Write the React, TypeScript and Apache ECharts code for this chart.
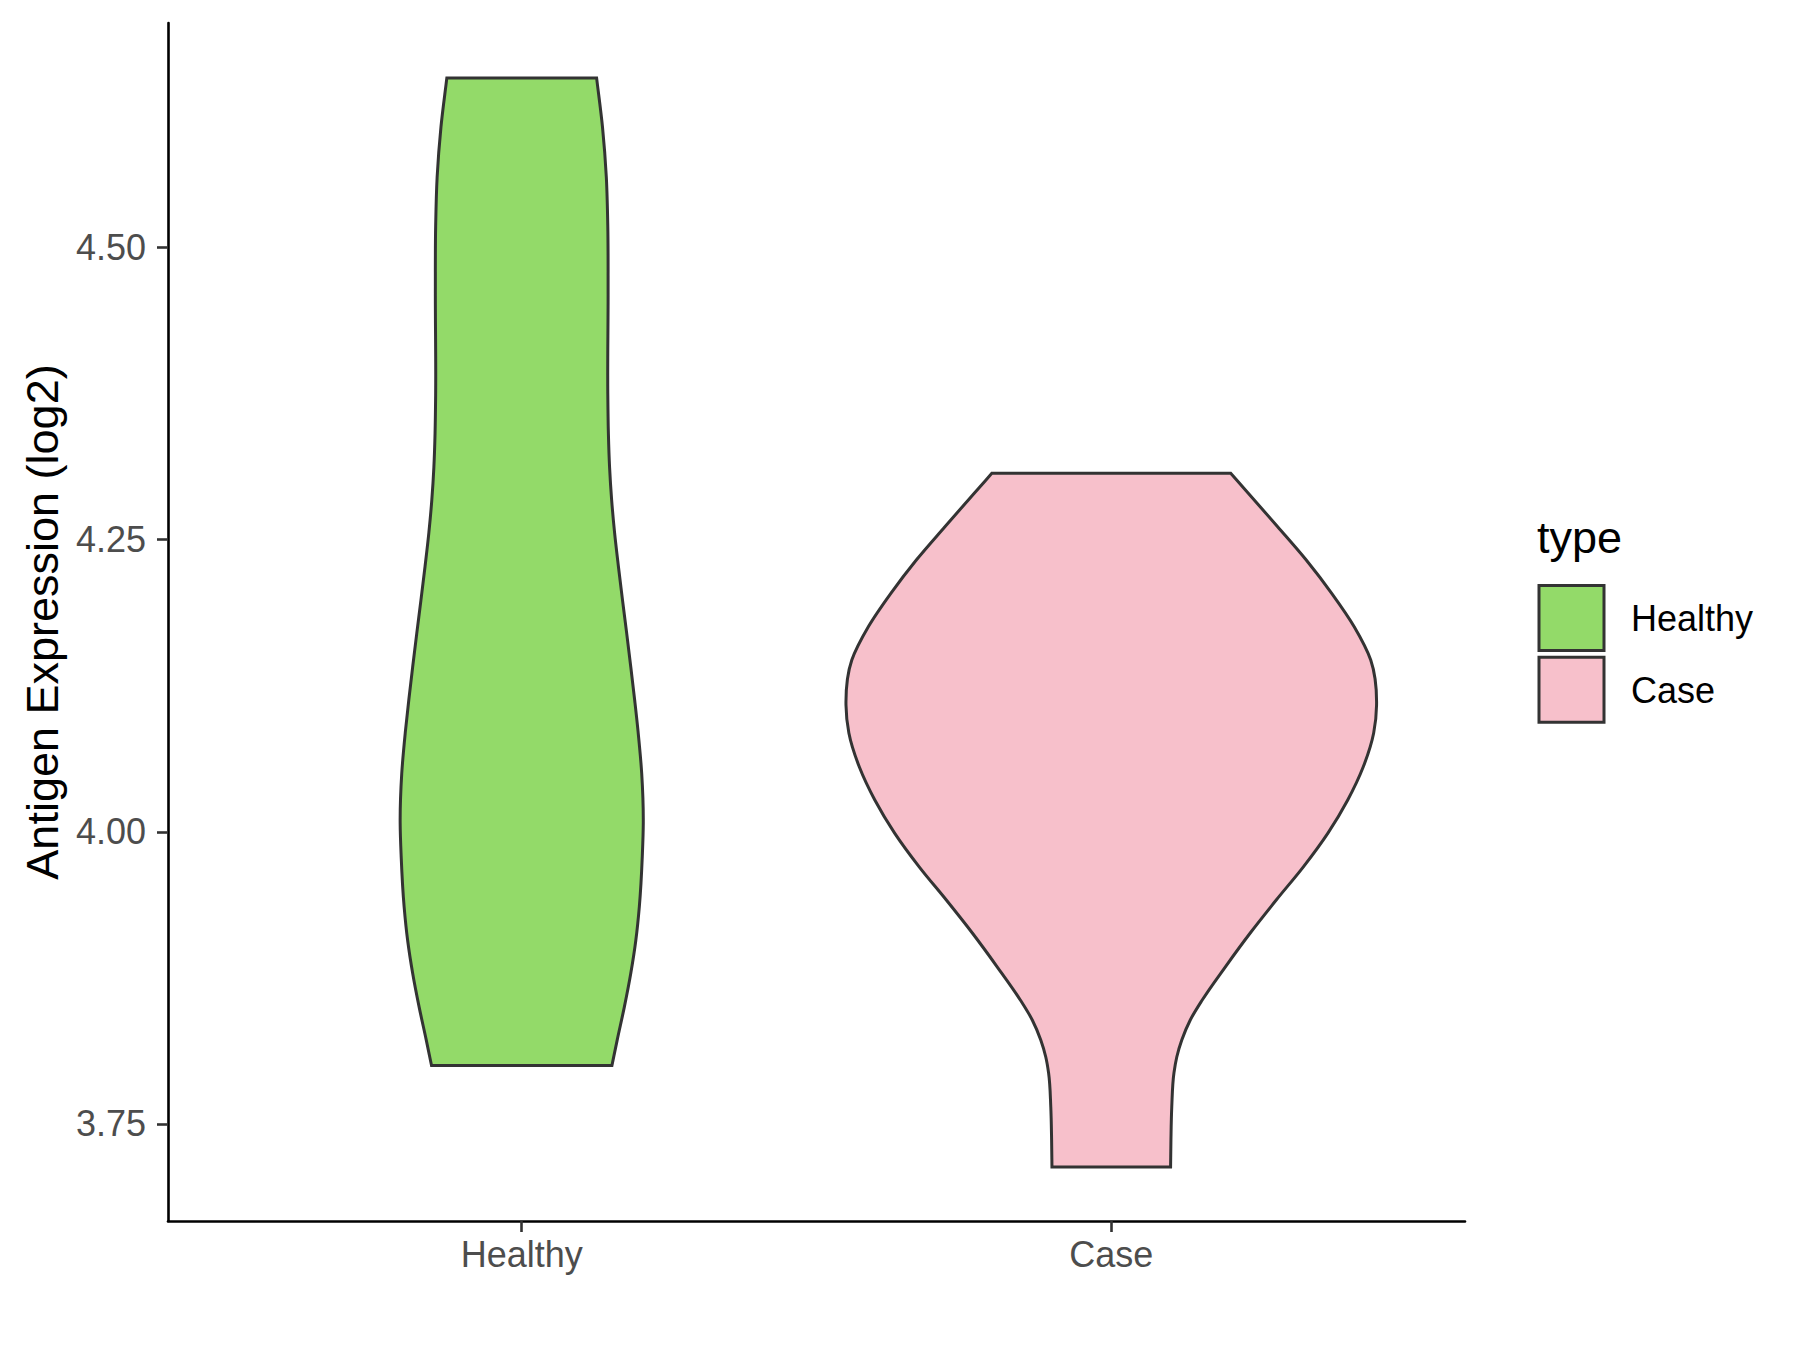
import React, { useEffect, useRef } from "react";
import * as echarts from "echarts";

// ---------- data ----------
const categories = ["Healthy", "Case"];
const fillColors = ["#93DA69", "#F7C0CB"];
const yTicks = [3.75, 4.0, 4.25, 4.5];

// violin outline: y value and half-width (in category units) from bottom to top
const healthyY = [3.8, 3.822, 3.85, 3.879, 3.907, 3.936, 3.979, 4.008, 4.05, 4.085, 4.113, 4.141, 4.17, 4.198, 4.227, 4.256, 4.284, 4.312, 4.341, 4.375, 4.461, 4.518, 4.56, 4.603, 4.645];
const healthyHalfWidth = [0.153, 0.162, 0.174, 0.185, 0.1935, 0.1995, 0.2045, 0.2062, 0.2035, 0.1975, 0.1915, 0.185, 0.178, 0.171, 0.164, 0.1575, 0.1525, 0.149, 0.147, 0.146, 0.1465, 0.146, 0.1435, 0.137, 0.127];

const caseY = [3.7132, 3.7363, 3.7645, 3.7936, 3.8073, 3.8218, 3.839, 3.8561, 3.8843, 3.9134, 3.9416, 3.9698, 3.9989, 4.0272, 4.0554, 4.0845, 4.1084, 4.1469, 4.1754, 4.204, 4.2325, 4.261, 4.2895, 4.3067];
const caseHalfWidth = [0.1006, 0.1012, 0.1026, 0.1063, 0.1111, 0.1196, 0.134, 0.1543, 0.1933, 0.2357, 0.2798, 0.3255, 0.3675, 0.4011, 0.4273, 0.4451, 0.45, 0.4401, 0.4121, 0.3739, 0.3307, 0.2822, 0.2328, 0.2026];

const profiles = [
  { y: healthyY, w: healthyHalfWidth },
  { y: caseY, w: caseHalfWidth },
];

const FONT = "'Liberation Sans', Arial, Helvetica, sans-serif";

// tangents dw/dy of the outline at each point (for cubic Hermite -> Bezier)
function tangents(y: number[], w: number[]): number[] {
  const n = y.length;
  const d: number[] = [];
  for (let i = 0; i < n - 1; i++) d.push((w[i + 1] - w[i]) / (y[i + 1] - y[i]));
  const m: number[] = [];
  for (let i = 0; i < n; i++) {
    if (i === 0) m.push(d[0]);
    else if (i === n - 1) m.push(d[n - 2]);
    else {
      const h0 = y[i] - y[i - 1];
      const h1 = y[i + 1] - y[i];
      m.push((d[i - 1] * h1 + d[i] * h0) / (h0 + h1));
    }
  }
  return m;
}

const f = (p: number[]) => `${p[0].toFixed(2)},${p[1].toFixed(2)}`;

export default function App() {
  const ref = useRef<HTMLDivElement>(null);

  useEffect(() => {
    if (!ref.current) return;
    const chart = echarts.init(ref.current, undefined, { renderer: "svg" });

    const renderItem = (params: any, api: any) => {
      const idx = api.value(0);
      const prof = profiles[idx];
      const c = idx + 1;
      const y = prof.y;
      const w = prof.w;
      const n = y.length;
      const m = tangents(y, w);
      // left side, bottom -> top
      let d = `M${f(api.coord([c - w[0], y[0]]))}`;
      for (let i = 0; i < n - 1; i++) {
        const h = y[i + 1] - y[i];
        const c1 = api.coord([c - (w[i] + (m[i] * h) / 3), y[i] + h / 3]);
        const c2 = api.coord([c - (w[i + 1] - (m[i + 1] * h) / 3), y[i + 1] - h / 3]);
        const p2 = api.coord([c - w[i + 1], y[i + 1]]);
        d += ` C${f(c1)} ${f(c2)} ${f(p2)}`;
      }
      // flat top
      d += ` L${f(api.coord([c + w[n - 1], y[n - 1]]))}`;
      // right side, top -> bottom
      for (let i = n - 1; i > 0; i--) {
        const h = y[i] - y[i - 1];
        const c1 = api.coord([c + (w[i] - (m[i] * h) / 3), y[i] - h / 3]);
        const c2 = api.coord([c + (w[i - 1] + (m[i - 1] * h) / 3), y[i - 1] + h / 3]);
        const p2 = api.coord([c + w[i - 1], y[i - 1]]);
        d += ` C${f(c1)} ${f(c2)} ${f(p2)}`;
      }
      d += " Z";
      return {
        type: "path",
        shape: { pathData: d },
        style: {
          fill: fillColors[idx],
          stroke: "#333333",
          lineWidth: 3,
          lineJoin: "miter",
        },
      };
    };

    const legendItems: any[] = [
      {
        type: "text",
        left: 1537,
        top: 515,
        style: { text: "type", font: `45px ${FONT}`, fill: "#000000" },
      },
    ];
    categories.forEach((cat, i) => {
      const top = 585.5 + i * 71.7;
      legendItems.push({
        type: "rect",
        shape: { x: 1539, y: top, width: 65, height: 65 },
        style: { fill: fillColors[i], stroke: "#333333", lineWidth: 3 },
      });
      legendItems.push({
        type: "text",
        x: 1631,
        y: top + 33,
        style: {
          text: cat,
          font: `36px ${FONT}`,
          fill: "#000000",
          verticalAlign: "middle",
          align: "left",
        },
      });
    });

    chart.setOption({
      animation: false,
      backgroundColor: "#ffffff",
      grid: {
        left: 168,
        right: 335,
        top: 23,
        bottom: 129,
        containLabel: false,
        outerBoundsMode: "none",
      },
      xAxis: {
        type: "value",
        min: 0.4,
        max: 2.6,
        splitLine: { show: false },
        axisLine: { show: true, lineStyle: { color: "#000000", width: 2.6 } },
        axisTick: {
          show: true,
          customValues: [1, 2],
          length: 11,
          lineStyle: { color: "#333333", width: 2.6 },
        },
        axisLabel: {
          customValues: [1, 2],
          formatter: (v: number) => categories[Math.round(v) - 1] || "",
          color: "#4D4D4D",
          fontSize: 36,
          fontFamily: FONT,
          margin: 15,
        },
      },
      yAxis: {
        type: "value",
        min: 3.667,
        max: 4.692,
        name: "Antigen Expression (log2)",
        nameLocation: "middle",
        nameGap: 103,
        nameTextStyle: { color: "#000000", fontSize: 45, fontFamily: FONT },
        splitLine: { show: false },
        axisLine: { show: true, lineStyle: { color: "#000000", width: 2.6 } },
        axisTick: {
          show: true,
          customValues: yTicks,
          length: 11,
          lineStyle: { color: "#333333", width: 2.6 },
        },
        axisLabel: {
          customValues: yTicks,
          formatter: (v: number) => v.toFixed(2),
          color: "#4D4D4D",
          fontSize: 36,
          fontFamily: FONT,
          margin: 22,
        },
      },
      series: categories.map((cat, i) => ({
        type: "custom",
        name: cat,
        renderItem,
        data: [[i]],
        encode: { x: 0 },
        clip: false,
      })),
      graphic: legendItems,
    });

    return () => chart.dispose();
  }, []);

  return (
    <div
      ref={ref}
      style={{ position: "absolute", left: 0, top: 0, width: 1800, height: 1350, background: "#ffffff" }}
    />
  );
}
